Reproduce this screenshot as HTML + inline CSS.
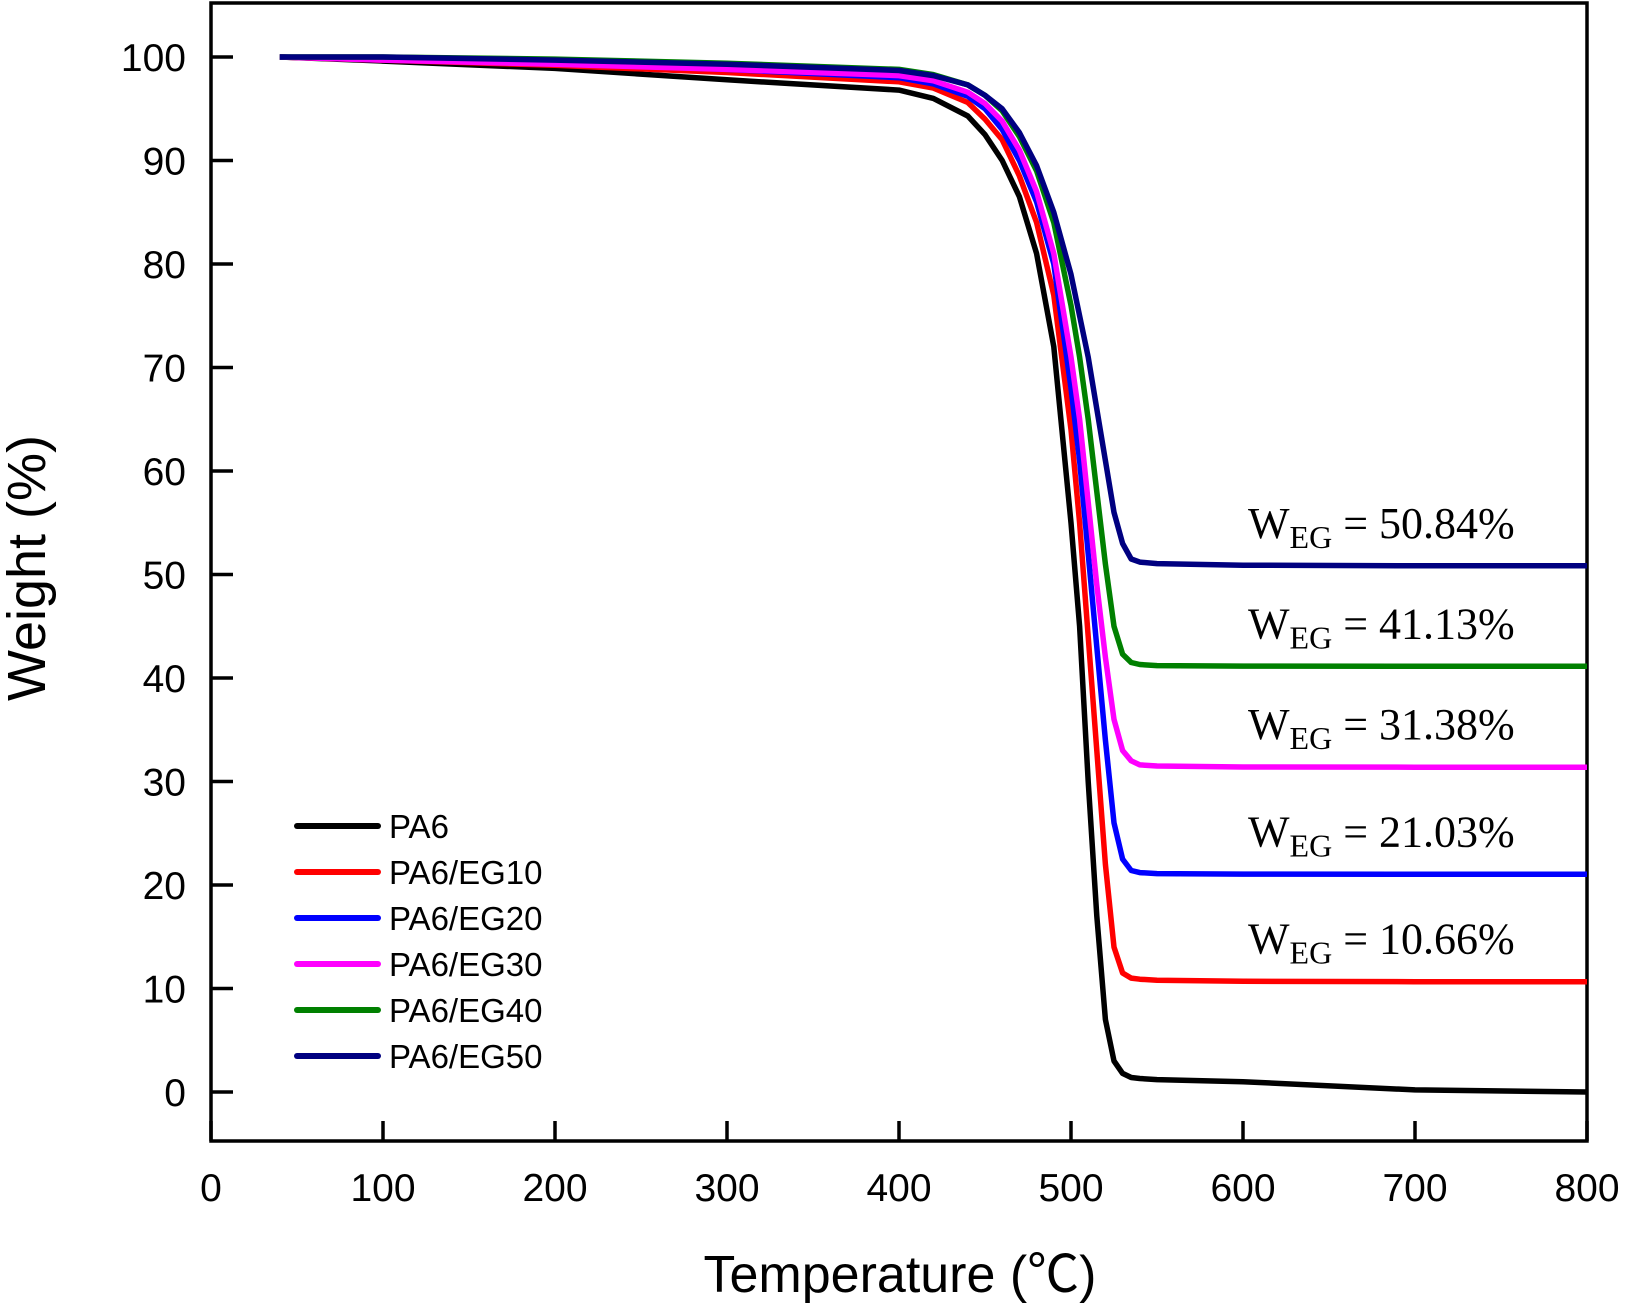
<!DOCTYPE html>
<html><head><meta charset="utf-8"><style>
html,body{margin:0;padding:0;background:#fff;}
svg{display:block;}
</style></head><body>
<svg id="chart" width="1629" height="1309" xmlns="http://www.w3.org/2000/svg">
<g id="plot"></g>
</svg>
<script>
const temps = [40,100,200,300,400,420,440,450,460,470,480,490,500,505,510,515,520,525,530,535,540,550,600,700,800];
const seriesNames = ["PA6","PA6/EG10","PA6/EG20","PA6/EG30","PA6/EG40","PA6/EG50"];
const pa6   = [100,99.6,98.9,97.8,96.8,96,94.3,92.5,90,86.5,81,72,55,45,30,17,7,3,1.8,1.4,1.3,1.2,1.0,0.2,0];
const eg10  = [100,99.7,99.2,98.5,97.6,97,95.6,94,92,88.5,84,77,64,55,44,33,22,14,11.5,11,10.9,10.8,10.7,10.66,10.66];
const eg20  = [100,99.8,99.4,98.8,98,97.4,96.2,95,93,90,86,80,68,61,52,43,34,26,22.5,21.4,21.2,21.1,21.05,21.03,21.03];
const eg30  = [100,99.7,99.3,98.8,98.2,97.7,96.6,95.5,93.8,91,87,81,71,65,57,49,42,36,33,32,31.6,31.5,31.4,31.38,31.38];
const eg40  = [100,100,99.8,99.4,98.8,98.3,97.3,96.3,94.8,92.3,89,84,76,71,65,58,51,45,42.3,41.5,41.3,41.2,41.15,41.13,41.13];
const eg50  = [100,100,99.7,99.3,98.7,98.2,97.3,96.3,95,92.7,89.5,85,79,75,71,66,61,56,53,51.5,51.2,51.05,50.9,50.84,50.84];
const residues = ["50.84","41.13","31.38","21.03","10.66"];
const residueVals = [50.84,41.13,31.38,21.03,10.66];
const xTicks = [0,100,200,300,400,500,600,700,800];
const yTicks = [0,10,20,30,40,50,60,70,80,90,100];

const NS="http://www.w3.org/2000/svg";
const L=211,R=1587,T=3,B=1141;
const xs=v=>L+v*(R-L)/800;
const ys=v=>1092-v*10.35;
const g=document.getElementById('plot');
function mk(tag,attrs,parent){const e=document.createElementNS(NS,tag);for(const k in attrs)e.setAttribute(k,attrs[k]);(parent||g).appendChild(e);return e;}

const frame=mk('rect',{x:L,y:T,width:R-L,height:B-T,fill:'none',stroke:'#000','stroke-width':3.5});



xTicks.forEach(t=>{
  const ln=mk('line',{x1:xs(t),x2:xs(t),y1:B,y2:B-20,stroke:'#000','stroke-width':3.5});
  
  
  const tx=mk('text',{x:xs(t),y:B+60,'text-anchor':'middle','font-family':'Liberation Sans, sans-serif','font-size':39});
  tx.textContent=t;
  
  
});
yTicks.forEach(t=>{
  const ln=mk('line',{x1:L,x2:L+22,y1:ys(t),y2:ys(t),stroke:'#000','stroke-width':3.5});
  
  
  const tx=mk('text',{x:186,y:ys(t)+14,'text-anchor':'end','font-family':'Liberation Sans, sans-serif','font-size':39});
  tx.textContent=t;
  
  
});

const xt=mk('text',{x:900,y:1292,'text-anchor':'middle','font-family':'Liberation Sans, "Noto Sans CJK SC", sans-serif','font-size':52});
xt.textContent='Temperature (℃)';


const yt=mk('text',{x:0,y:0,'text-anchor':'middle','font-family':'Liberation Sans, sans-serif','font-size':54,transform:'translate(45,568) rotate(-90)'});
yt.textContent='Weight (%)';



const allSeries=[pa6,eg10,eg20,eg30,eg40,eg50];
const colors=['#000000','#ff0000','#0000ff','#ff00ff','#008000','#000080'];
allSeries.forEach((s,i)=>{
  const d=s.map((v,j)=>(j?'L':'M')+xs(temps[j]).toFixed(1)+','+ys(v).toFixed(1)).join(' ');
  const p=mk('path',{d:d,fill:'none',stroke:colors[i],'stroke-width':5.5,'stroke-linejoin':'round'});
  
  
  const ly=826+i*46;
  const ll=mk('line',{x1:297,x2:378,y1:ly,y2:ly,stroke:colors[i],'stroke-width':6,'stroke-linecap':'round'});
  
  
  const lt=mk('text',{x:389,y:ly+12,'font-family':'Liberation Sans, sans-serif','font-size':33});
  lt.textContent=seriesNames[i];
  
  
});

residues.forEach((r,i)=>{
  const tx=mk('text',{x:1248,y:ys(residueVals[i])-28,'font-family':'Liberation Serif, serif','font-size':44});
  
  
  const a=mk('tspan',{},tx);a.textContent='W';
  const b=mk('tspan',{'font-size':32,dy:10},tx);b.textContent='EG';
  const c=mk('tspan',{dy:-10},tx);c.textContent=' = '+r+'%';
});
</script>
</body></html>
